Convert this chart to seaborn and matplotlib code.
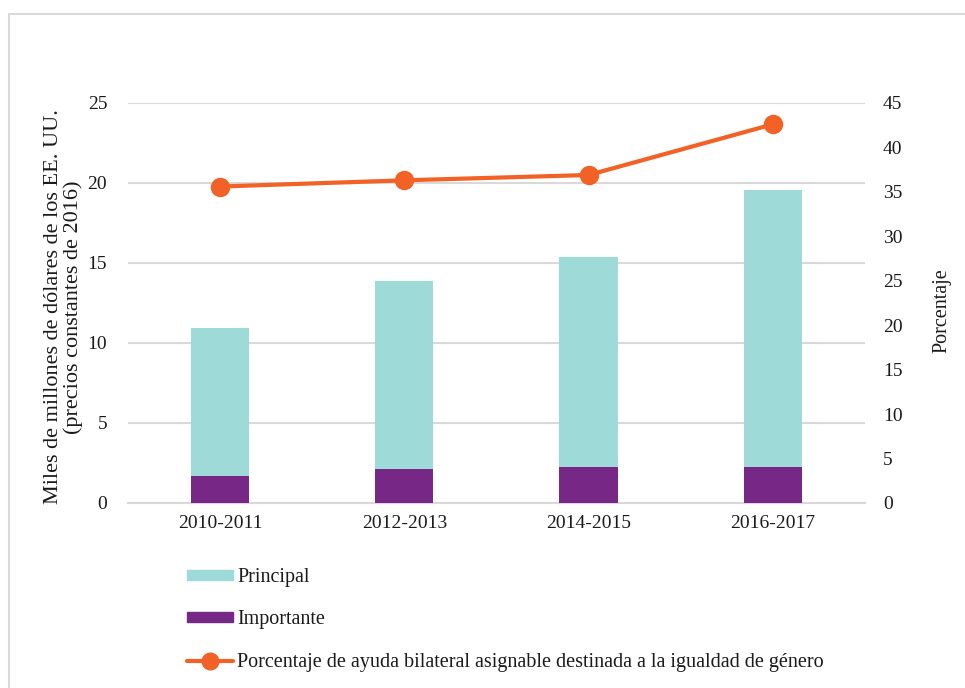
import numpy as np
import pandas as pd
import matplotlib
matplotlib.use("Agg")
import matplotlib.pyplot as plt
from matplotlib.patches import Patch
from matplotlib.lines import Line2D
import seaborn as sns

periods = ["2010-2011", "2012-2013", "2014-2015", "2016-2017"]
importante = [1.69, 2.10, 2.27, 2.27]
principal = [9.27, 11.75, 13.10, 17.31]
porcentaje = [35.6, 36.3, 36.9, 42.6]

left_ticks = [0, 5, 10, 15, 20, 25]
right_ticks = [0, 5, 10, 15, 20, 25, 30, 35, 40, 45]

teal = "#9ddad8"
purple = "#772887"
orange = "#f26125"
grid = "#d9d9d9"
txt = "#1a1a1a"

sns.set_theme(style="white")
plt.rcParams["font.family"] = ["Liberation Serif", "DejaVu Serif"]

df = pd.DataFrame({"periodo": periods, "importante": importante,
                   "principal": principal, "porcentaje": porcentaje})
df["total"] = df["importante"] + df["principal"]

fig = plt.figure(figsize=(9.65, 6.88), dpi=100)
ax = fig.add_axes([0.1326, 0.2689, 0.7637, 0.5814])

sns.barplot(data=df, x="periodo", y="total", color=teal, width=0.316,
            saturation=1, linewidth=0, ax=ax, zorder=3)
sns.barplot(data=df, x="periodo", y="importante", color=purple, width=0.316,
            saturation=1, linewidth=0, ax=ax, zorder=4)

ax.set_ylim(0, 25)
ax.set_yticks(left_ticks)
ax.set_xlim(-0.5, 3.5)
ax.yaxis.grid(True, color=grid, linewidth=1.5, zorder=0)
ax.set_axisbelow(True)
for s in ["top", "right", "left"]:
    ax.spines[s].set_visible(False)
ax.spines["bottom"].set_color(grid)
ax.spines["bottom"].set_linewidth(1.5)
ax.tick_params(axis="both", length=0, labelsize=14, colors=txt)
ax.tick_params(axis="y", pad=15)
ax.tick_params(axis="x", pad=9)
ax.set_xlabel("")
ax.set_ylabel("Miles de millones de dólares de los EE. UU.\n(precios constantes de 2016)",
              fontsize=16, linespacing=1.0, color=txt)
ax.yaxis.set_label_coords(-0.061, 0.49)

ax2 = ax.twinx()
sns.lineplot(x=np.arange(len(periods)), y=df["porcentaje"], color=orange,
             linewidth=3, marker="o", markersize=14, markeredgewidth=0,
             ax=ax2, zorder=5)
ax2.set_ylim(0, 45)
ax2.set_yticks(right_ticks)
ax2.set_xlim(-0.5, 3.5)
for s in ["top", "right", "left", "bottom"]:
    ax2.spines[s].set_visible(False)
ax2.tick_params(axis="y", length=0, labelsize=14, colors=txt, pad=13)
ax2.set_ylabel("Porcentaje", fontsize=14.5, color=txt)
ax2.yaxis.set_label_coords(1.092, 0.48)

handles = [Patch(color=teal, label="Principal"),
           Patch(color=purple, label="Importante"),
           Line2D([0], [0], color=orange, linewidth=3, marker="o",
                  markersize=13, markeredgewidth=0,
                  label="Porcentaje de ayuda bilateral asignable destinada a la igualdad de género")]
fig.legend(handles=handles, loc="upper left", bbox_to_anchor=(187 / 965, 1 - 568 / 688),
           frameon=False, fontsize=14.5, handlelength=2.3, handleheight=0.4,
           handletextpad=0.2, labelspacing=1.16, borderaxespad=0, borderpad=0,
           labelcolor=txt)

# frame lines
fig.add_artist(Line2D([9 / 965, 9 / 965], [0, 1 - 14 / 688], color=grid,
                      linewidth=1.5, transform=fig.transFigure))
fig.add_artist(Line2D([9 / 965, 1], [1 - 14 / 688, 1 - 14 / 688], color=grid,
                      linewidth=1.5, transform=fig.transFigure))

fig.savefig("out.png", dpi=100)
